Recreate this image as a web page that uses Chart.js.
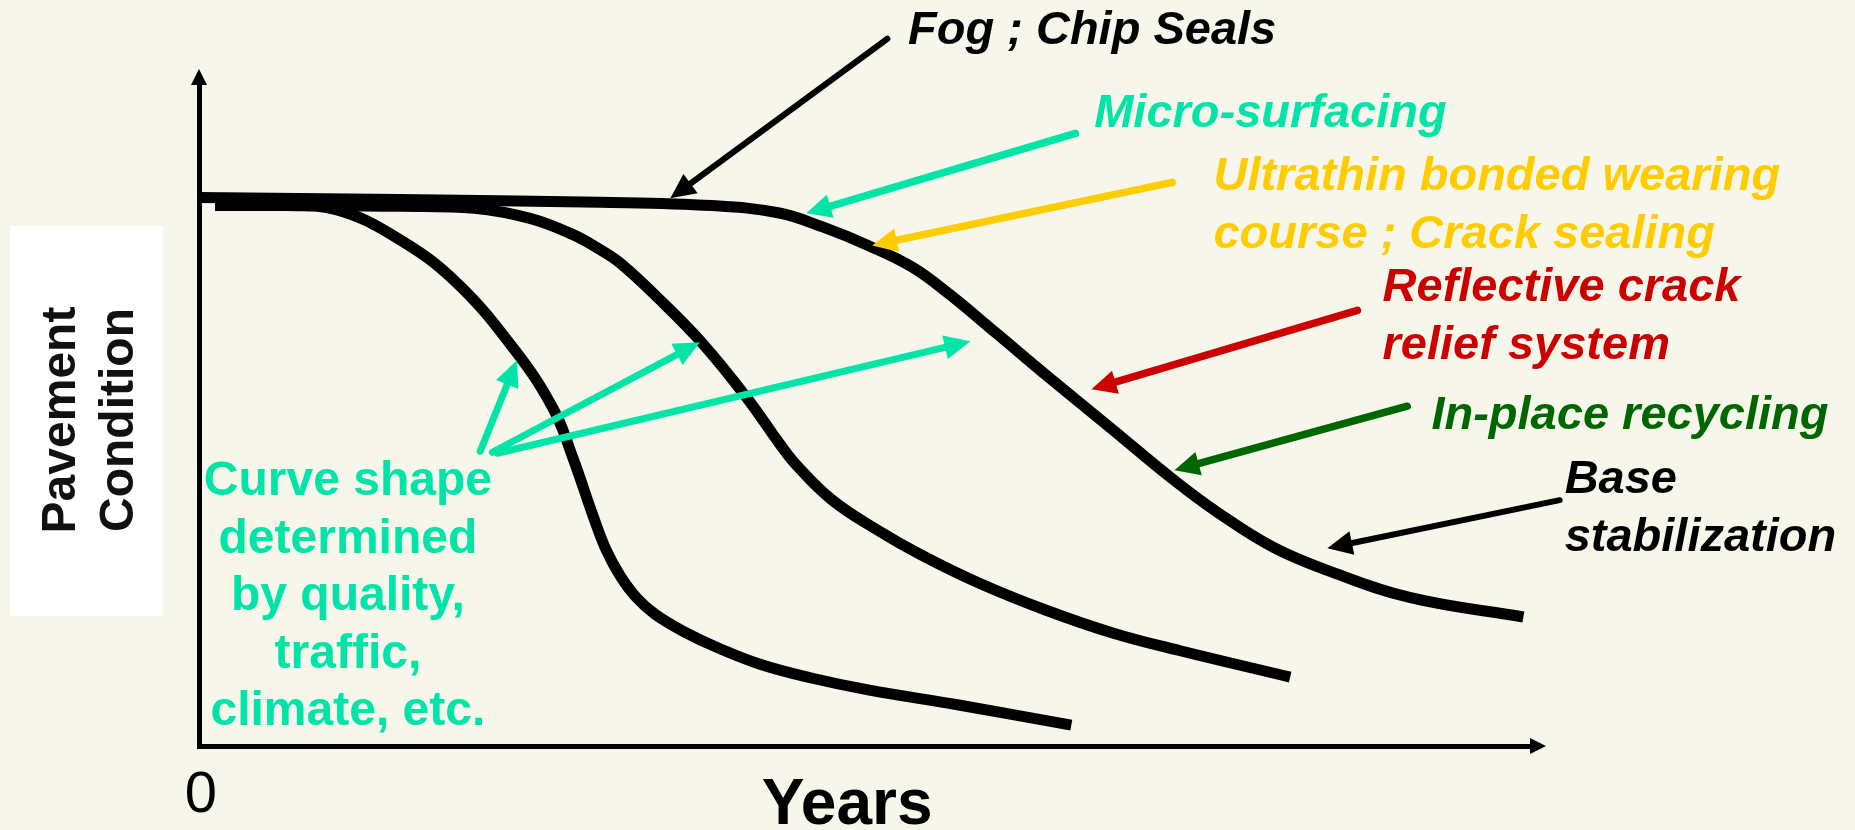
<!DOCTYPE html>
<html>
<head>
<meta charset="utf-8">
<title>Pavement Condition over Years</title>
<script src="https://cdn.jsdelivr.net/npm/chart.js@4.4.1/dist/chart.umd.min.js"></script>
<style>
  html, body { margin: 0; padding: 0; background: #f6f6eb; }
  canvas { display: block; }
</style>
</head>
<body>
<canvas id="chart" width="1855" height="830"></canvas>
<script>
// Deterioration curves: condition (0-100) against age in years.
// Section that fails early
const fastYears     = [0.36, 1.92, 3.06, 4.37, 5.71, 7.03, 7.90, 8.34, 8.79, 9.08, 9.39, 9.75, 10.17, 10.82, 11.58, 12.51, 13.63, 14.92, 16.91, 19.45];
const fastCondition = [80.0, 80.0, 79.4, 75.4, 68.8, 58.7, 49.9, 42.6, 34.0, 29.0, 25.2, 22.0, 19.5, 16.9, 14.5, 12.1, 10.1, 8.3, 6.1, 3.1];

// Section with average life
const midYears      = [0.36, 2.25, 4.48, 6.13, 7.38, 8.34, 8.94, 9.39, 10.24, 11.24, 12.22, 12.94, 13.32, 14.12, 15.12, 16.10, 17.40, 18.89, 20.39, 21.88, 24.33];
const midCondition  = [80.0, 80.0, 79.9, 79.6, 78.1, 75.7, 73.5, 71.5, 66.3, 59.5, 51.5, 44.8, 41.6, 36.4, 32.0, 28.3, 24.1, 20.1, 16.7, 14.1, 10.2];

// Section with long life (the preservation curve)
const slowYears     = [0.0, 4.48, 8.94, 11.44, 12.94, 13.92, 14.92, 15.90, 16.71, 17.76, 18.98, 20.34, 21.75, 22.73, 23.96, 25.16, 26.99, 29.53];
const slowCondition = [81.2, 80.9, 80.5, 80.0, 78.9, 76.8, 74.1, 70.9, 67.0, 61.2, 54.4, 47.0, 39.3, 34.5, 29.4, 26.0, 22.0, 19.1];

// Axis range and labels
const yearRange      = [0, 29.7];
const conditionRange = [0, 98];
const xTickLabel     = '0';
const xAxisTitle     = 'Years';
const yAxisTitle     = ['Pavement', 'Condition'];

// Treatment callouts: text, colour, text anchor and arrow (years, condition)
const treatmentText = [
  ['Fog ; Chip Seals'],
  ['Micro-surfacing'],
  ['Ultrathin bonded wearing', 'course ; Crack sealing'],
  ['Reflective crack', 'relief system'],
  ['In-place recycling'],
  ['Base', 'stabilization']
];
const treatmentColor = ['#000000', '#00e4a8', '#ffcc00', '#cc0000', '#006600', '#000000'];
const treatmentTextAt = [[15.81, 103.85], [19.96, 91.7], [22.62, 82.25], [26.39, 65.83], [27.48, 46.89], [30.45, 37.43]];
const treatmentFrom = [[15.35, 104.7], [19.54, 90.68], [21.70, 83.43], [25.83, 64.50], [26.94, 50.30], [30.34, 36.39]];
const treatmentTo   = [[10.51, 81.07], [13.54, 78.85], [15.01, 74.11], [19.90, 52.81], [21.75, 40.83], [25.16, 29.29]];

// Note about what sets the curve shape, with arrows to the three curves
const noteText   = ['Curve shape', 'determined', 'by quality,', 'traffic,', 'climate, etc.'];
const noteAt     = [3.32, 37.13];
const noteFrom   = [[6.27, 43.64], [6.54, 43.49], [6.65, 43.34]];
const noteTo     = [[7.09, 57.10], [11.17, 59.76], [17.20, 59.91]];
const noteColor  = '#00e4a8';

const toPoints = (xs, ys) => xs.map((x, i) => ({ x: x, y: ys[i] }));

const FONT = '"Liberation Sans", Arial, Helvetica, sans-serif';

function drawArrow(ctx, x0, y0, x1, y1, color, width, headLen, headHalf) {
  const a = Math.atan2(y1 - y0, x1 - x0);
  const c = Math.cos(a), s = Math.sin(a);
  const bx = x1 - headLen * c, by = y1 - headLen * s;
  ctx.save();
  ctx.strokeStyle = color;
  ctx.fillStyle = color;
  ctx.lineWidth = width;
  ctx.lineCap = 'round';
  ctx.beginPath();
  ctx.moveTo(x0, y0);
  ctx.lineTo(bx + 2 * c, by + 2 * s);
  ctx.stroke();
  ctx.beginPath();
  ctx.moveTo(x1, y1);
  ctx.lineTo(bx + headHalf * s, by - headHalf * c);
  ctx.lineTo(bx - headHalf * s, by + headHalf * c);
  ctx.closePath();
  ctx.fill();
  ctx.restore();
}

const backgroundPlugin = {
  id: 'paper',
  beforeDraw(chart) {
    const ctx = chart.ctx;
    ctx.save();
    ctx.fillStyle = '#f6f6eb';
    ctx.fillRect(0, 0, chart.width, chart.height);
    ctx.restore();
  }
};

const decorPlugin = {
  id: 'decor',
  afterDraw(chart) {
    const ctx = chart.ctx;
    const xs = chart.scales.x, ys = chart.scales.y;
    const area = chart.chartArea;
    const px = (v) => xs.getPixelForValue(v);
    const py = (v) => ys.getPixelForValue(v);

    // axis arrowheads
    ctx.save();
    ctx.fillStyle = '#000';
    ctx.beginPath();
    ctx.moveTo(area.left, area.top - 15);
    ctx.lineTo(area.left - 8, area.top + 1);
    ctx.lineTo(area.left + 8, area.top + 1);
    ctx.closePath();
    ctx.fill();
    ctx.beginPath();
    ctx.moveTo(area.right + 15, area.bottom);
    ctx.lineTo(area.right - 1, area.bottom - 8);
    ctx.lineTo(area.right - 1, area.bottom + 8);
    ctx.closePath();
    ctx.fill();
    ctx.restore();

    // y axis title on a white card
    ctx.save();
    ctx.fillStyle = '#ffffff';
    ctx.fillRect(10, 226, 153, 390);
    ctx.filter = 'blur(0.6px)';
    ctx.fillStyle = '#111';
    ctx.font = 'bold 48px ' + FONT;
    ctx.textAlign = 'center';
    ctx.textBaseline = 'alphabetic';
    ctx.translate(0, 420);
    ctx.rotate(-Math.PI / 2);
    ctx.fillText(yAxisTitle[0], 0, 75);
    ctx.fillText(yAxisTitle[1], 0, 133);
    ctx.restore();

    // x tick label and title
    ctx.save();
    ctx.fillStyle = '#000';
    ctx.textAlign = 'center';
    ctx.textBaseline = 'alphabetic';
    ctx.font = '58px ' + FONT;
    ctx.fillText(xTickLabel, px(0) + 2, area.bottom + 66);
    ctx.font = 'bold 64px ' + FONT;
    ctx.fillText(xAxisTitle, px(14.45), area.bottom + 78);
    ctx.restore();

    // note and its arrows
    ctx.save();
    ctx.fillStyle = noteColor;
    ctx.font = 'bold 48px ' + FONT;
    ctx.textAlign = 'center';
    ctx.textBaseline = 'alphabetic';
    noteText.forEach((line, i) => {
      ctx.fillText(line, px(noteAt[0]), py(noteAt[1]) + i * 57.5);
    });
    ctx.restore();
    noteFrom.forEach((f, i) => {
      const t = noteTo[i];
      drawArrow(ctx, px(f[0]), py(f[1]), px(t[0]), py(t[1]), noteColor, 7, 26, 12);
    });

    // treatment callouts
    treatmentText.forEach((lines, i) => {
      const color = treatmentColor[i];
      const f = treatmentFrom[i], t = treatmentTo[i];
      const w = color === '#000000' ? 6 : 7.5;
      drawArrow(ctx, px(f[0]), py(f[1]), px(t[0]), py(t[1]), color, w, 25, 12);
      ctx.save();
      ctx.fillStyle = color;
      ctx.font = 'italic bold 47px ' + FONT;
      ctx.textAlign = 'left';
      ctx.textBaseline = 'alphabetic';
      const at = treatmentTextAt[i];
      lines.forEach((line, k) => {
        ctx.fillText(line, px(at[0]), py(at[1]) + k * 58);
      });
      ctx.restore();
    });
  }
};

const curveStyle = {
  borderColor: '#000000',
  borderWidth: 11,
  pointRadius: 0,
  pointHoverRadius: 0,
  fill: false,
  tension: 0.4,
  borderCapStyle: 'butt',
  borderJoinStyle: 'round'
};

new Chart(document.getElementById('chart'), {
  type: 'line',
  data: {
    datasets: [
      Object.assign({ label: 'Early failure', data: toPoints(fastYears, fastCondition) }, curveStyle),
      Object.assign({ label: 'Average life', data: toPoints(midYears, midCondition) }, curveStyle),
      Object.assign({ label: 'Long life', data: toPoints(slowYears, slowCondition) }, curveStyle)
    ]
  },
  options: {
    responsive: false,
    animation: false,
    devicePixelRatio: 1,
    layout: { padding: { left: 199, right: 324, top: 84, bottom: 84 } },
    plugins: { legend: { display: false }, tooltip: { enabled: false } },
    scales: {
      x: {
        type: 'linear',
        min: yearRange[0], max: yearRange[1],
        grid: { display: false, drawTicks: false },
        border: { display: true, color: '#000', width: 5 },
        ticks: { display: false }
      },
      y: {
        type: 'linear',
        min: conditionRange[0], max: conditionRange[1],
        grid: { display: false, drawTicks: false },
        border: { display: true, color: '#000', width: 5 },
        ticks: { display: false }
      }
    }
  },
  plugins: [backgroundPlugin, decorPlugin]
});
</script>
</body>
</html>
